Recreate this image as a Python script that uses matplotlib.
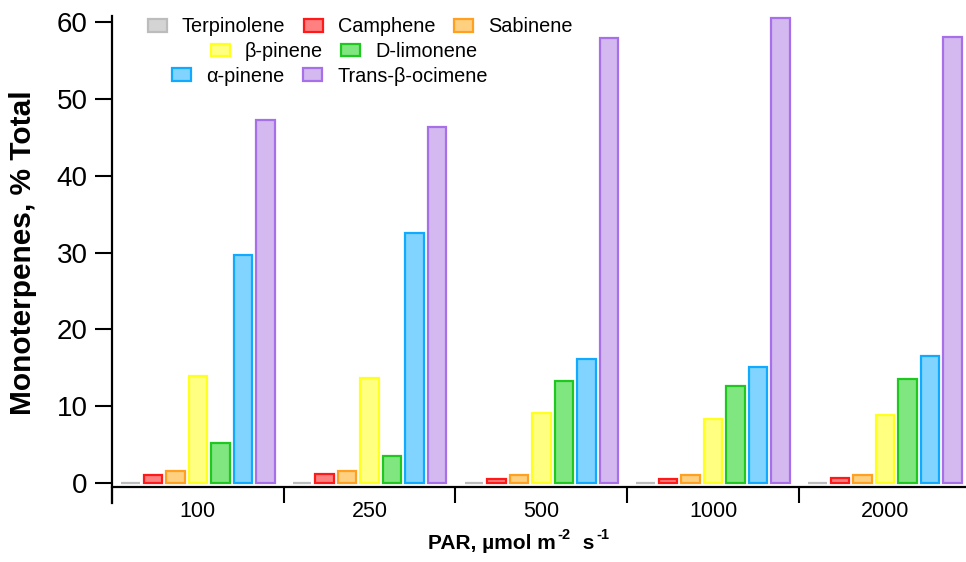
import matplotlib
matplotlib.use("Agg")
import matplotlib.pyplot as plt
from matplotlib.patches import Patch
import numpy as np

plt.rcParams['font.family'] = ['Liberation Sans', 'DejaVu Sans']

categories = ["100", "250", "500", "1000", "2000"]
series_names = ["Terpinolene", "Camphene", "Sabinene", "β-pinene", "D-limonene",
                "α-pinene", "Trans-β-ocimene"]
terpinolene = [0.05, 0.05, 0.05, 0.05, 0.05]
camphene = [1.0, 1.2, 0.6, 0.6, 0.7]
sabinene = [1.6, 1.6, 1.0, 1.0, 1.1]
beta_pinene = [14.0, 13.7, 9.1, 8.4, 8.9]
d_limonene = [5.2, 3.5, 13.3, 12.7, 13.5]
alpha_pinene = [29.7, 32.5, 16.2, 15.1, 16.5]
ocimene = [47.2, 46.3, 58.0, 60.6, 58.1]

values = [terpinolene, camphene, sabinene, beta_pinene, d_limonene, alpha_pinene, ocimene]
fills = ["#d4d4d4", "#ff8080", "#ffd080", "#ffff80", "#80e680", "#80d4ff", "#d4b8f0"]
edges = ["#bcbcbc", "#ff1a1a", "#ffa020", "#ffff20", "#1ec81e", "#10aaff", "#a870e8"]

fig = plt.figure(figsize=(9.66, 5.62), dpi=100)
ax = fig.add_axes([112/966, 1-487/562, 1-112/966, (487-16)/562])

x = np.arange(len(categories))
pitch = 0.131
width = 0.108
handles = []
for i, (vals, fc, ec, name) in enumerate(zip(values, fills, edges, series_names)):
    off = (i - 3) * pitch
    ax.bar(x + off, vals, width=width, color=fc, edgecolor=ec, linewidth=1.6, zorder=3)
    handles.append(Patch(facecolor=fc, edgecolor=ec, linewidth=1.6, label=name))

ax.set_xlim(-0.5, 4.5 - 4.75/171.75)
ax.set_ylim(-0.5, 60.8)

for s in ['top', 'right']:
    ax.spines[s].set_visible(False)
for s in ['left', 'bottom']:
    ax.spines[s].set_linewidth(1.6)
ax.spines['left'].set_bounds(-2.6, 60.8)
ax.spines['left'].set_clip_on(False)

ax.set_yticks([0, 10, 20, 30, 40, 50, 60])
ax.tick_params(axis='y', length=12.5, width=1.5, labelsize=20, pad=5)
ax.set_xticks([-0.5, 0.5, 1.5, 2.5, 3.5])
ax.set_xticklabels([])
ax.tick_params(axis='x', length=11.5, width=1.5, direction='out')
ax.set_xticks(x, minor=True)
ax.set_xticklabels(categories, minor=True)
ax.tick_params(axis='x', which='minor', length=0, labelsize=15.5, pad=10)

ax.set_ylabel("Monoterpenes, % Total", fontsize=21.5, fontweight='bold')
ax.yaxis.set_label_coords((23 - 112)/(966 - 112), (487 - 253)/(487 - 16))
ax.yaxis.label.set_va('center')

# x label with hyphen superscripts, built piecewise
fs_main, fs_sup = 15, 10.5
t1 = fig.text(428/966, 1-553/562, "PAR, µmol m", fontsize=fs_main, fontweight='bold',
              ha='left', va='bottom')
t2 = ax.annotate("-2", xy=(1, 0), xycoords=t1, xytext=(1.5, 8), textcoords='offset points',
                 fontsize=fs_sup, fontweight='bold', ha='left', va='bottom', annotation_clip=False)
t3 = ax.annotate(" s", xy=(1, 0), xycoords=(t2, t1), xytext=(4, 0), textcoords='offset points',
                 fontsize=fs_main, fontweight='bold', ha='left', va='bottom', annotation_clip=False)
t4 = ax.annotate("-1", xy=(1, 0), xycoords=(t3, t1), xytext=(1.5, 8), textcoords='offset points',
                 fontsize=fs_sup, fontweight='bold', ha='left', va='bottom', annotation_clip=False)

kw = dict(frameon=False, fontsize=14.3, handlelength=0.95, handleheight=0.62,
          handletextpad=0.75, columnspacing=0.95, borderpad=0, borderaxespad=0)
l1 = fig.legend(handles=handles[0:3], ncol=3, loc='center',
                bbox_to_anchor=(360/966, 1-27/562), **kw)
l2 = fig.legend(handles=handles[3:5], ncol=2, loc='center',
                bbox_to_anchor=(344/966, 1-51.5/562), **kw)
l3 = fig.legend(handles=handles[5:7], ncol=2, loc='center',
                bbox_to_anchor=(330/966, 1-76/562), **kw)

fig.savefig("out.png", dpi=100)
